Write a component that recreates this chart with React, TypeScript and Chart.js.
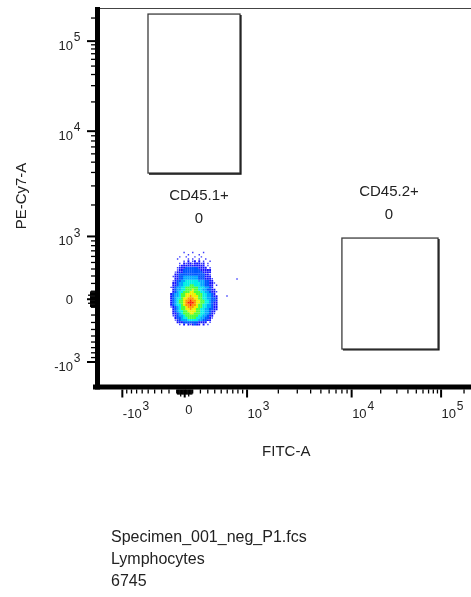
import React, { useEffect, useRef } from "react";
import { Chart, Scale, registerables } from "chart.js";

Chart.register(...registerables);

// ---------------- data ----------------
const AXIS_MIN = -1650;
const AXIS_MAX = 280000;
const COFACTOR = 700; // arcsinh cofactor of the biexponential-like display
const COMPRESSION = 0.0343; // high-decade compression of the display

const MAJOR_TICKS = [-1000, 0, 1000, 10000, 100000];
const MAJOR_TICK_BASES = ["-10", "0", "10", "10", "10"];
const MAJOR_TICK_EXPONENTS = ["3", "", "3", "4", "5"];
const MINOR_TICKS = [
  -900, -800, -700, -600, -500, -400, -300, -200, -100,
  100, 200, 300, 400, 500, 600, 700, 800, 900,
  2000, 3000, 4000, 5000, 6000, 7000, 8000, 9000,
  20000, 30000, 40000, 50000, 60000, 70000, 80000, 90000, 200000,
];
const ZERO_TICKS = [
  -90, -80, -70, -60, -50, -40, -30, -20, -10,
  10, 20, 30, 40, 50, 60, 70, 80, 90,
];

const X_TITLE = "FITC-A";
const Y_TITLE = "PE-Cy7-A";

const GATE_NAMES = ["CD45.1+", "CD45.2+"];
const GATE_COUNTS = [0, 0];
const GATE_X_LOW = [-503, 8000];
const GATE_X_HIGH = [843, 91500];
const GATE_Y_LOW = [3950, -726];
const GATE_Y_HIGH = [226700, 963];

const SAMPLE_FILE = "Specimen_001_neg_P1.fcs";
const SAMPLE_POPULATION = "Lymphocytes";
const SAMPLE_EVENTS = 6745;

// density cells: equal display channels (display units of the axis transform)
const DENSITY_CELL = 0.0385;
const DENSITY_FIRST_X = -0.2418; // first column, display units
const DENSITY_FIRST_Y = 0.8247; // first (top) row, display units
// ' ' none, '.' single events, '1'..'8' density level (low -> high)
const DENSITY_ROWS = [
  "      .   .    .      ",
  "        .    .        ",
  "    .  .   .  .       ",
  "   .    . .  .  .     ",
  "      . 1 .1 1 .  .   ",
  "    . 1.11.111.1 .    ",
  "    .11111111111 .    ",
  "   .1112222221111 .   ",
  "   .112222222211111   ",
  "  .1112222222221111   ",
  "  1122222222222211.   ",
  " .11223333333222111   ",
  "  11223333333222111.  ",
  " .122334444443332211  ",
  " 1123344444444332211. ",
  " 1123344455444332211 .",
  ".1233445555554443321  ",
  " 12334455565544332211 ",
  " 12344555665554433211.",
  "123345566666555443321 ",
  "1233455667666554433211",
  "1234456677766554433221",
  "1234556778776655443221",
  "1234556788876655443211",
  "1234456778776554433211",
  ".123455677766554433211",
  " 123455667665544332211",
  " 12344556666554433211 ",
  " 1123455566555443321. ",
  " .123345555554433211  ",
  "  12234455554433221.  ",
  "  .1233344444332211   ",
  "   11122222221111 .   ",
  "    . 1 1.1211 1 .    ",
];
const OUTLIER_X = [782, 596];
const OUTLIER_Y = [258, 40];

// ---------------- styles ----------------
const LEVEL_KEYS = ".12345678";
const LEVEL_COLORS = [
  "#3a3aff", "#1414ff", "#0058ff", "#00a8ff", "#00eee6",
  "#4cff3a", "#eef000", "#ff9200", "#ff1c00",
];
const LEVEL_RADIUS = [1.0, 1.35, 1.62, 1.62, 1.62, 1.62, 1.62, 1.62, 1.62];
const FONT = '"Liberation Sans", Arial, "DejaVu Sans", sans-serif';
const TEXT_COLOR = "#222";

const T = (v: number) => {
  const u = Math.asinh(v / COFACTOR);
  return u - COMPRESSION * u * Math.abs(u);
};
const TINV = (g: number) => {
  const a = Math.abs(g);
  const u = (1 - Math.sqrt(1 - 4 * COMPRESSION * a)) / (2 * COMPRESSION);
  return Math.sign(g) * COFACTOR * Math.sinh(u);
};

class BiexScale extends Scale {
  static id = "biex";
  static defaults = {};
  _startT = 0;
  _rangeT = 1;
  parse(raw: any) {
    if (raw === null || raw === undefined) return null;
    const n = +raw;
    return isFinite(n) ? n : null;
  }
  determineDataLimits() {
    const { min, max } = (this as any).getMinMax(true);
    (this as any).min = isFinite(min) ? min : AXIS_MIN;
    (this as any).max = isFinite(max) ? max : AXIS_MAX;
  }
  buildTicks() {
    return MAJOR_TICKS.map((value) => ({ value }));
  }
  configure() {
    super.configure();
    this._startT = T((this as any).min);
    this._rangeT = T((this as any).max) - this._startT;
  }
  getPixelForValue(value: number) {
    return (this as any).getPixelForDecimal((T(value) - this._startT) / this._rangeT);
  }
  getValueForPixel(pixel: number) {
    return TINV((this as any).getDecimalForPixel(pixel) * this._rangeT + this._startT);
  }
  getLabelForValue(value: number) {
    return String(value);
  }
}
Chart.register(BiexScale as any);

function buildDatasets() {
  const pts: { x: number; y: number }[][] = LEVEL_KEYS.split("").map(() => []);
  DENSITY_ROWS.forEach((row, r) => {
    row.split("").forEach((ch, c) => {
      const k = LEVEL_KEYS.indexOf(ch);
      if (k < 0) return;
      pts[k].push({
        x: TINV(DENSITY_FIRST_X + c * DENSITY_CELL),
        y: TINV(DENSITY_FIRST_Y - r * DENSITY_CELL),
      });
    });
  });
  OUTLIER_X.forEach((x, i) => pts[0].push({ x, y: OUTLIER_Y[i] }));
  return pts.map((data, k) => ({
    label: "level " + LEVEL_KEYS[k],
    data,
    pointStyle: "rect",
    pointRadius: LEVEL_RADIUS[k],
    pointHoverRadius: LEVEL_RADIUS[k],
    backgroundColor: LEVEL_COLORS[k],
    borderColor: LEVEL_COLORS[k],
    pointBorderWidth: 0,
    borderWidth: 0,
    showLine: false,
  }));
}

function drawPower(ctx: CanvasRenderingContext2D, base: string, exp: string, x: number, yBase: number, ySup: number, align: "left" | "right") {
  ctx.font = `13px ${FONT}`;
  ctx.textBaseline = "middle";
  const w = ctx.measureText(base).width;
  const left = align === "left" ? x : x - w;
  ctx.textAlign = "left";
  ctx.fillText(base, left, exp ? yBase : yBase - 3.5);
  if (exp) {
    ctx.font = `12px ${FONT}`;
    ctx.fillText(exp, left + w + 0.8, ySup);
  }
}

const facsPlugin = {
  id: "facsFrame",
  afterDraw(chart: any) {
    const ctx: CanvasRenderingContext2D = chart.ctx;
    const xs = chart.scales.x;
    const ys = chart.scales.y;
    const a = chart.chartArea;
    ctx.save();

    // frame (top / right)
    ctx.strokeStyle = "#444";
    ctx.lineWidth = 1;
    ctx.beginPath();
    ctx.moveTo(a.left, Math.round(a.top) + 0.5);
    ctx.lineTo(a.right, Math.round(a.top) + 0.5);
    ctx.lineTo(a.right, a.bottom);
    ctx.stroke();

    // gates
    GATE_NAMES.forEach((name, i) => {
      const l = xs.getPixelForValue(GATE_X_LOW[i]);
      const r = xs.getPixelForValue(GATE_X_HIGH[i]);
      const t = ys.getPixelForValue(GATE_Y_HIGH[i]);
      const b = ys.getPixelForValue(GATE_Y_LOW[i]);
      ctx.strokeStyle = "#3c3c3c";
      ctx.lineWidth = 1.3;
      ctx.strokeRect(l, t, r - l, b - t);
      ctx.strokeStyle = "#111";
      ctx.lineWidth = 1.4;
      ctx.beginPath();
      ctx.moveTo(r + 0.9, t + 1);
      ctx.lineTo(r + 0.9, b + 0.9);
      ctx.lineTo(l + 1, b + 0.9);
      ctx.stroke();

      const below = i === 0;
      const cx = (l + r) / 2 + (below ? 5 : -1);
      const y1 = below ? b + 23 : t - 46;
      ctx.fillStyle = TEXT_COLOR;
      ctx.font = `15px ${FONT}`;
      ctx.textAlign = "center";
      ctx.textBaseline = "middle";
      ctx.fillText(name, cx, y1);
      ctx.fillText(String(GATE_COUNTS[i]), cx, y1 + 23);
    });

    // axis lines
    ctx.fillStyle = "#000";
    ctx.fillRect(a.left - 5, a.top - 0.5, 5, a.bottom + 5 - a.top + 0.5);
    ctx.fillRect(a.left - 7, a.bottom, a.right - a.left + 7, 5);

    // ticks
    const tickSets: [number[], number, number][] = [
      [MINOR_TICKS, 4, 1.3],
      [ZERO_TICKS, 5, 1.3],
      [MAJOR_TICKS, 8, 2],
    ];
    tickSets.forEach(([vals, len, lw]) => {
      ctx.strokeStyle = "#000";
      ctx.lineWidth = lw;
      vals.forEach((v) => {
        if (v < AXIS_MIN || v > AXIS_MAX) return;
        const L = v === 50 || v === -50 ? 7 : len;
        const py = ys.getPixelForValue(v);
        if (py > a.top + 1) {
          ctx.beginPath();
          ctx.moveTo(a.left - 5, py);
          ctx.lineTo(a.left - 5 - L, py);
          ctx.stroke();
        }
        const px = xs.getPixelForValue(v);
        ctx.beginPath();
        ctx.moveTo(px, a.bottom + 5);
        ctx.lineTo(px, a.bottom + 5 + L);
        ctx.stroke();
      });
    });

    // tick labels
    ctx.fillStyle = TEXT_COLOR;
    MAJOR_TICKS.forEach((v, i) => {
      const py = ys.getPixelForValue(v);
      drawPower(ctx, MAJOR_TICK_BASES[i], MAJOR_TICK_EXPONENTS[i], a.left - 27, py + 5, py - 3, "right");
      const px = xs.getPixelForValue(v);
      drawPower(ctx, MAJOR_TICK_BASES[i], MAJOR_TICK_EXPONENTS[i], px + 0.5, a.bottom + 29.5, a.bottom + 22.5, "left");
    });

    // axis titles
    ctx.font = `15px ${FONT}`;
    ctx.textAlign = "center";
    ctx.textBaseline = "middle";
    ctx.fillText(X_TITLE, (a.left + a.right) / 2 - 1, a.bottom + 67.5);
    ctx.save();
    ctx.translate(22, (a.top + a.bottom) / 2);
    ctx.rotate(-Math.PI / 2);
    ctx.fillText(Y_TITLE, 0, 0);
    ctx.restore();

    // sample info
    ctx.font = `16px ${FONT}`;
    ctx.textAlign = "left";
    [SAMPLE_FILE, SAMPLE_POPULATION, String(SAMPLE_EVENTS)].forEach((s, i) => {
      ctx.fillText(s, 111, 538 + i * 22);
    });
    ctx.restore();
  },
};

export default function App() {
  const ref = useRef<HTMLCanvasElement>(null);
  useEffect(() => {
    const chart = new Chart(ref.current as HTMLCanvasElement, {
      type: "scatter",
      data: { datasets: buildDatasets() as any },
      options: {
        animation: false,
        responsive: false,
        events: [],
        layout: { padding: { left: 100, right: 5.5, top: 7.5, bottom: 212.5 } },
        plugins: {
          legend: { display: false },
          tooltip: { enabled: false },
          title: { display: false },
        },
        scales: {
          x: { type: "biex" as any, min: AXIS_MIN, max: AXIS_MAX, display: false },
          y: { type: "biex" as any, min: AXIS_MIN, max: AXIS_MAX, display: false },
        },
      },
      plugins: [facsPlugin],
    });
    return () => chart.destroy();
  }, []);
  return (
    <div style={{ position: "fixed", left: 0, top: 0, width: 471, height: 597, overflow: "hidden", background: "#fff" }}>
      <canvas ref={ref} width={480} height={597} style={{ display: "block", width: 480, height: 597 }} />
    </div>
  );
}
